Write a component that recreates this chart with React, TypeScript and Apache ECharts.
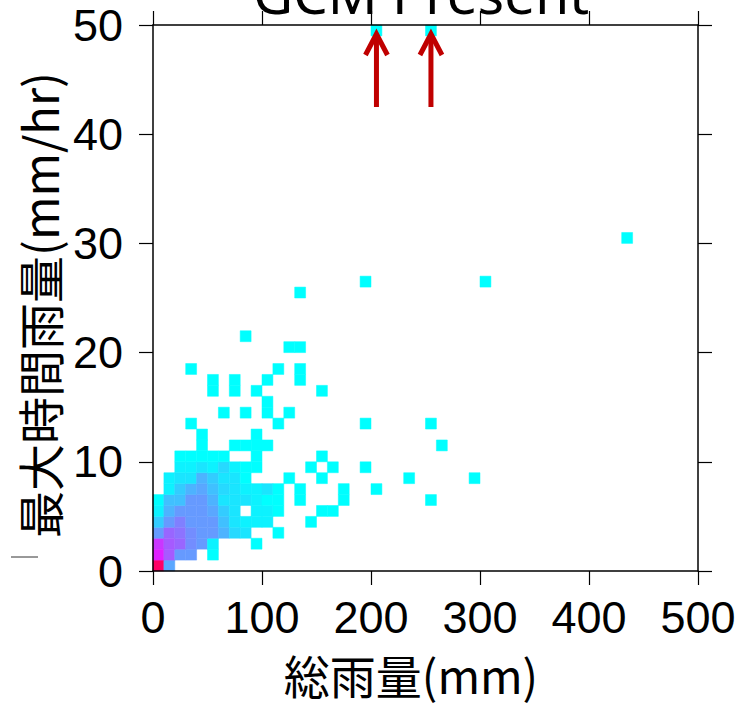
import React, { useEffect, useRef } from 'react';
import * as echarts from 'echarts';

// Axis ticks
const xTicks = [0, 100, 200, 300, 400, 500];
const yTicks = [0, 10, 20, 30, 40, 50];
const binWidthMm = 10; // total rainfall bin (mm)
const binHeight = 1; // max hourly rainfall bin (mm/hr)

// Colour level per occupied bin: [total rain bin start (mm), max hourly bin start (mm/hr), level]
const cells: [number, number, number][] = [
  [0, 0, 10], [10, 0, 4.5],
  [0, 1, 9], [10, 1, 7.5], [20, 1, 5], [30, 1, 5], [50, 1, 1],
  [0, 2, 8.5], [10, 2, 7.5], [20, 2, 7], [30, 2, 5.5], [40, 2, 5], [50, 2, 1.5], [90, 2, 1],
  [0, 3, 5], [10, 3, 7], [20, 3, 6.5], [30, 3, 5.5], [40, 3, 5], [50, 3, 5], [60, 3, 4], [70, 3, 2.5], [80, 3, 2], [110, 3, 1],
  [0, 4, 3], [10, 4, 5], [20, 4, 6], [30, 4, 5], [40, 4, 5], [50, 4, 5], [60, 4, 3.5], [70, 4, 2], [80, 4, 1.5], [90, 4, 1.5], [100, 4, 1.5], [140, 4, 1],
  [0, 5, 1.5], [10, 5, 4], [20, 5, 5], [30, 5, 5], [40, 5, 5], [50, 5, 4.5], [60, 5, 3], [70, 5, 2], [90, 5, 1.5], [100, 5, 1.5], [110, 5, 1], [150, 5, 1], [160, 5, 1],
  [0, 6, 1], [10, 6, 3.5], [20, 6, 3.5], [30, 6, 5], [40, 6, 5], [50, 6, 4], [60, 6, 2], [70, 6, 2], [80, 6, 2], [90, 6, 1.5], [100, 6, 1], [110, 6, 1], [130, 6, 1], [170, 6, 1], [250, 6, 1],
  [10, 7, 1.5], [20, 7, 3], [30, 7, 4], [40, 7, 4.5], [50, 7, 3.5], [60, 7, 2.5], [70, 7, 2], [80, 7, 1.5], [90, 7, 1.5], [100, 7, 2], [110, 7, 1], [130, 7, 1], [170, 7, 1], [200, 7, 1],
  [10, 8, 1.5], [20, 8, 2], [30, 8, 2], [40, 8, 4], [50, 8, 3], [60, 8, 2], [70, 8, 2], [80, 8, 1], [120, 8, 1], [150, 8, 1], [230, 8, 1], [290, 8, 1],
  [20, 9, 1.5], [30, 9, 1.5], [40, 9, 2], [50, 9, 1.5], [60, 9, 2.5], [70, 9, 1.5], [80, 9, 1], [90, 9, 1], [140, 9, 1], [160, 9, 1], [190, 9, 1],
  [20, 10, 1], [30, 10, 1], [40, 10, 1], [50, 10, 1], [60, 10, 1], [90, 10, 1], [150, 10, 1],
  [40, 11, 1], [70, 11, 1], [80, 11, 1], [90, 11, 1], [100, 11, 1], [260, 11, 1],
  [40, 12, 1], [90, 12, 1],
  [30, 13, 1], [110, 13, 1], [190, 13, 1], [250, 13, 1],
  [60, 14, 1], [80, 14, 1], [100, 14, 1], [120, 14, 1],
  [100, 15, 1],
  [50, 16, 1], [70, 16, 1], [90, 16, 1], [150, 16, 1],
  [50, 17, 1], [70, 17, 1], [100, 17, 1], [130, 17, 1],
  [30, 18, 1], [110, 18, 1], [130, 18, 1],
  [120, 20, 1], [130, 20, 1],
  [80, 21, 1],
  [130, 25, 1],
  [190, 26, 1], [300, 26, 1],
  [430, 30, 1],
  [200, 49, 1], [250, 49, 1],
];

// Arrows point at the clipped bins (x centre, mm)
const arrowTargets = [205, 255];

// Colour for levels 1..10
const levelColors = ['#00ffff', '#1ae5ff', '#33ccff', '#4db3ff', '#669aff', '#8080ff', '#9966ff', '#b34dff', '#e01fff', '#ff0066'];

const axisCommon = {
  type: 'value' as const,
  z: 5,
  splitLine: { show: false },
  axisLine: { show: true, onZero: false, lineStyle: { color: '#000', width: 1.5 } },
  axisTick: { show: true, inside: false, length: 14, lineStyle: { color: '#000', width: 1.2 } },
};

const labelStyle = { fontSize: 45, fontFamily: '"Liberation Sans", Arial, sans-serif', color: '#000' };

export default function App() {
  const ref = useRef<HTMLDivElement>(null);
  useEffect(() => {
    document.body.style.margin = '0';
    const chart = echarts.init(ref.current!, null, { renderer: 'svg' });
    chart.setOption({
      animation: false,
      backgroundColor: '#fff',
      grid: { left: 153, top: 25, width: 545, height: 546 },
      xAxis: [
        { ...axisCommon, position: 'bottom', min: xTicks[0], max: xTicks[xTicks.length - 1], interval: xTicks[1] - xTicks[0], axisLabel: { ...labelStyle, margin: 24 } },
        { ...axisCommon, position: 'top', min: xTicks[0], max: xTicks[xTicks.length - 1], interval: xTicks[1] - xTicks[0], axisLabel: { show: false } },
      ],
      yAxis: [
        { ...axisCommon, position: 'left', min: yTicks[0], max: yTicks[yTicks.length - 1], interval: yTicks[1] - yTicks[0], axisLabel: { ...labelStyle, margin: 30 } },
        { ...axisCommon, position: 'right', min: yTicks[0], max: yTicks[yTicks.length - 1], interval: yTicks[1] - yTicks[0], axisLabel: { show: false } },
      ],
      visualMap: {
        type: 'continuous', show: false, seriesIndex: 0, dimension: 2, min: 1, max: 10,
        inRange: { color: levelColors },
      },
      series: [
        {
          type: 'custom',
          xAxisIndex: 0, yAxisIndex: 0,
          data: cells,
          encode: { x: 0, y: 1 },
          renderItem: (params: any, api: any) => {
            const x0 = api.value(0);
            const y0 = api.value(1);
            const p0 = api.coord([x0, y0 + binHeight]);
            const p1 = api.coord([x0 + binWidthMm, y0]);
            const c = api.visual('color');
            return {
              type: 'rect',
              shape: { x: p0[0], y: p0[1], width: p1[0] - p0[0], height: p1[1] - p0[1] },
              style: { fill: c, stroke: c, lineWidth: 0.5 },
            };
          },
        },
        {
          type: 'custom',
          xAxisIndex: 0, yAxisIndex: 0,
          clip: false,
          z: 10,
          data: arrowTargets.map((x) => [x, yTicks[yTicks.length - 1]]),
          encode: { x: 0, y: 1 },
          renderItem: (params: any, api: any) => {
            const p = api.coord([api.value(0), api.value(1)]);
            const st = { stroke: '#c00000', lineWidth: 5, fill: 'none', lineJoin: 'miter', lineCap: 'butt' };
            return {
              type: 'group',
              children: [
                { type: 'line', shape: { x1: p[0], y1: p[1] + 82, x2: p[0], y2: p[1] + 11 }, style: st },
                { type: 'polyline', shape: { points: [[p[0] - 11, p[1] + 30], [p[0], p[1] + 9], [p[0] + 11, p[1] + 30]] }, style: st },
              ],
            };
          },
        },
      ],
      graphic: [
        { type: 'text', x: 421, y: -8, style: { text: 'GCM Present', fontSize: 55, fontFamily: '"Noto Sans", sans-serif', fill: '#000', align: 'center', verticalAlign: 'middle' } },
        { type: 'text', x: 411, y: 674, style: { text: '総雨量(mm)', fontSize: 46, fontFamily: '"Noto Sans CJK JP", sans-serif', fill: '#000', align: 'center', verticalAlign: 'middle' } },
        { type: 'text', x: 38, y: 305, rotation: Math.PI / 2, style: { text: '最大時間雨量(mm/hr)', fontSize: 47, fontFamily: '"Noto Sans CJK JP", sans-serif', fill: '#000', align: 'center', verticalAlign: 'middle' } },
        { type: 'line', shape: { x1: 11, y1: 557, x2: 38, y2: 557 }, style: { stroke: '#333', lineWidth: 1 } },
      ],
    });
    return () => chart.dispose();
  }, []);
  return <div ref={ref} style={{ width: 740, height: 704 }} />;
}
